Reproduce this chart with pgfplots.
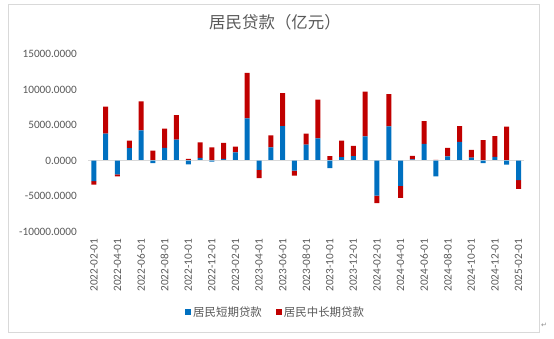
\documentclass[border=0pt]{standalone}
\usepackage{pgfplots}
\pgfplotsset{compat=1.18}
\usepackage{pgfplotstable}
\usepackage{fontspec}
\setmainfont{Carlito}
\newfontfamily\cjk{Noto Sans CJK SC}
\newfontfamily\dejavu{DejaVu Sans}
\definecolor{exblue}{HTML}{0070C0}
\definecolor{exred}{HTML}{C00000}
\definecolor{txtgray}{HTML}{595959}
\definecolor{linegray}{HTML}{D9D9D9}

\pgfplotstableread{
i s l
0 -2900 -460
1 3800 3780
2 -1950 -280
3 1750 1080
4 4250 4100
5 -370 1420
6 1800 2700
7 2950 3450
8 -520 250
9 400 2150
10 -150 1850
11 250 2230
12 1170 800
13 5950 6400
14 -1300 -1150
15 1870 1690
16 4850 4630
17 -1400 -700
18 2250 1550
19 3140 5450
20 -1070 640
21 480 2330
22 640 1450
23 3420 6280
24 -4920 -1060
25 4820 4540
26 -3560 -1680
27 190 460
28 2340 3200
29 -2230 90
30 610 1170
31 2620 2250
32 420 1080
33 -370 2900
34 520 2940
35 -560 4780
36 -2760 -1220
}\loans

\pgfplotsset{common/.style={
  anchor=south west, at={(88bp,107.3bp)}, scale only axis,
  width=436.4bp, height=177.7bp,
  xmin=-0.5, xmax=36.5, ymin=-10000, ymax=15000,
  ybar stacked, bar width=5bp, clip=false,
}}

\begin{document}
\begin{tikzpicture}
\path[use as bounding box] (0bp,0bp) rectangle (554bp,339bp);
\draw[linegray, line width=0.75bp] (8bp,7bp) rectangle (539bp,335bp);
\node[font=\cjk\fontsize{16.5}{18}\selectfont, text=txtgray] at (275bp,317bp) {居民贷款（亿元）};
\node[font=\dejavu\fontsize{7}{8}\selectfont, text=txtgray!70] at (544bp,14bp) {↵};

\begin{axis}[common,
  axis line style={draw=none}, major tick length=0pt,
  scaled y ticks=false,
  ytick={-10000,-5000,0,5000,10000,15000},
  xtick={0,2,...,36},
  xticklabels={2022-02-01,2022-04-01,2022-06-01,2022-08-01,2022-10-01,2022-12-01,2023-02-01,2023-04-01,2023-06-01,2023-08-01,2023-10-01,2023-12-01,2024-02-01,2024-04-01,2024-06-01,2024-08-01,2024-10-01,2024-12-01,2025-02-01},
  ticklabel style={font=\fontsize{11.3}{13}\selectfont, text=txtgray, inner sep=0pt},
  yticklabel style={/pgf/number format/fixed, /pgf/number format/fixed zerofill, /pgf/number format/precision=4, /pgf/number format/1000 sep={}, /pgf/number format/assume math mode=true, anchor=east},
  yticklabel shift=11bp,
  xticklabel style={rotate=90, anchor=east},
  xticklabel shift=7bp,
  legend style={at={(0.43,-0.452)}, anchor=center, draw=none, fill=none,
    font=\cjk\fontsize{11.5}{13}\selectfont, text=txtgray,
    /tikz/every even column/.append style={column sep=12bp}},
  legend columns=2, legend cell align=left,
  legend image code/.code={\fill[#1] (0bp,-3bp) rectangle (6bp,3bp);},
]
\draw[linegray, line width=1.5bp] (axis cs:-0.5,0) -- (axis cs:36.5,0);
\addplot[fill=exblue, draw=none] table[x=i, y expr={max(\thisrow{s},0)}] {\loans};
\addplot[fill=exred, draw=none] table[x=i, y expr={max(\thisrow{l},0)}] {\loans};
\legend{居民短期贷款, 居民中长期贷款}
\end{axis}

\begin{axis}[common, hide axis]
\addplot[fill=exblue, draw=none] table[x=i, y expr={min(\thisrow{s},0)}] {\loans};
\addplot[fill=exred, draw=none] table[x=i, y expr={min(\thisrow{l},0)}] {\loans};
\end{axis}
\end{tikzpicture}
\end{document}
